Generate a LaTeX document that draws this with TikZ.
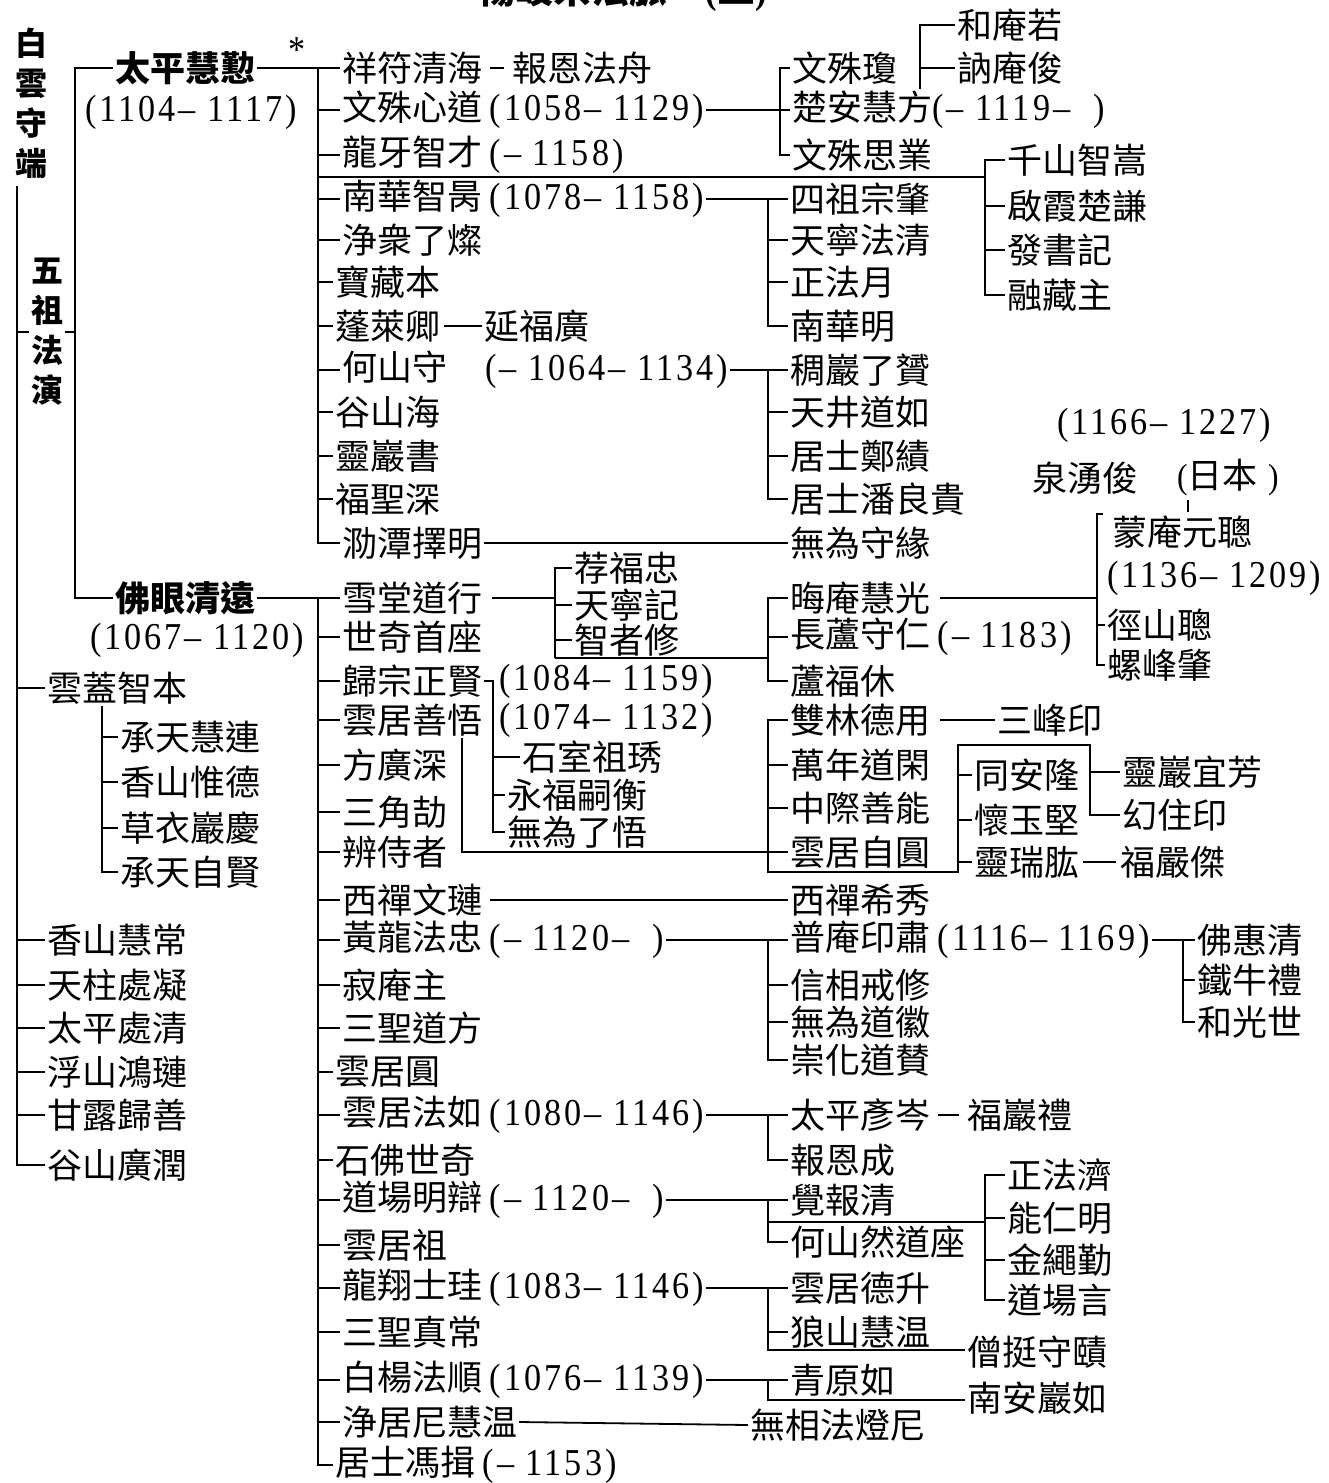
\documentclass[tikz,border=0pt]{standalone}
\usepackage{fontspec}
\setmainfont{Liberation Serif}
\newfontfamily\zhfont{Noto Sans CJK TC}
\newfontfamily\numfont{Liberation Serif}[FakeStretch=0.9,LetterSpace=8]
\newcommand{\yrs}[1]{{\numfont\fontsize{38}{38}\selectfont(#1)}}
\begin{document}
\begin{tikzpicture}[x=1pt,y=-1pt,line width=1.8pt,
	monk/.style={anchor=west, inner sep=0pt, outer sep=2pt, font=\zhfont\fontsize{35}{35}\selectfont},
	teacher/.style={monk, font=\zhfont\bfseries\fontsize{35}{35}\selectfont},
	yearsn/.style={anchor=west, inner sep=0pt, outer sep=2pt, font=\numfont\fontsize{38}{38}\selectfont},
	vert/.style={inner sep=0pt, outer sep=2pt, align=center, font=\zhfont\bfseries\fontsize{32}{40}\selectfont}]
	
	\clip (0,0) rectangle (1329,1483);
	
	%Title
	\node (ttl) at (622,12) [anchor=south, inner sep=0pt, font=\zhfont\bfseries\fontsize{38}{38}\selectfont]{楊岐宗法脈\quad{\numfont(}二{\numfont)}};
	
	%Bai Yun Shou Duan
	\node (byd) at (31,103) [vert]{白\\雲\\守\\端};
	\coordinate (colA) at (17,0);
	\node (wzfy) at (47,332) [vert]{五\\祖\\法\\演};
	\node (ygzb) at (45,688) [monk]{雲蓋智本};
	\node (xshc) at (45,940) [monk]{香山慧常};
	\node (tzcn) at (45,985) [monk]{天柱處凝};
	\node (tpcq) at (45,1028) [monk]{太平處清};
	\node (fshl) at (45,1072) [monk]{浮山鴻璉};
	\node (glgs) at (45,1115) [monk]{甘露歸善};
	\node (gsgr) at (45,1165) [monk]{谷山廣潤};
	\draw ([yshift=-6pt]byd.south -| colA) -- (colA |- gsgr.west) -- (gsgr.west);
	\draw (colA |- wzfy.west) -- (wzfy.west);
	\draw (colA |- ygzb.west) -- (ygzb.west);
	\draw (colA |- xshc.west) -- (xshc.west);
	\draw (colA |- tzcn.west) -- (tzcn.west);
	\draw (colA |- tpcq.west) -- (tpcq.west);
	\draw (colA |- fshl.west) -- (fshl.west);
	\draw (colA |- glgs.west) -- (glgs.west);
	
	%Yun Gai Zhi Ben
	\coordinate (colW) at (102,0);
	\node (ctlh) at (118,737) [monk]{承天慧連};
	\node (xswd) at (118,782) [monk]{香山惟德};
	\node (cyyq) at (118,828) [monk]{草衣巖慶};
	\node (ctzx) at (118,872) [monk]{承天自賢};
	\draw (colW |- ygzb.south) -- (colW |- ctzx.west) -- (ctzx.west);
	\draw (colW |- ctlh.west) -- (ctlh.west);
	\draw (colW |- xswd.west) -- (xswd.west);
	\draw (colW |- cyyq.west) -- (cyyq.west);
	
	%Wu Zu Fa Yan
	\coordinate (colB) at (75,0);
	\node (tpht) at (113,68) [teacher]{太平慧懃};
	\node (ast) at (297,50) [inner sep=0pt, font=\numfont\fontsize{38}{38}\selectfont]{*};
	\node (tphty) at (83,112) [yearsn]{(1104– 1117)};
	\node (fyqy) at (113,598) [teacher]{佛眼清遠};
	\node (fyqyy) at (88,640) [yearsn]{(1067– 1120)};
	\draw (wzfy.east) -- (colB |- wzfy.east);
	\draw (tpht.west) -- (colB |- tpht.west) -- (colB |- fyqy.west) -- (fyqy.west);
	
	%Tai Ping Hui Qin
	\coordinate (colC) at (318,0);
	\node (xfqh) at (340,68) [monk]{祥符清海};
	\node (befz) at (510,68) [monk]{報恩法舟};
	\node (wsxd) at (340,110) [monk]{文殊心道 \yrs{1058– 1129}};
	\node (lyzc) at (340,155) [monk]{龍牙智才 \yrs{– 1158}};
	\node (nhzb) at (340,199) [monk]{南華智昺 \yrs{1078– 1158}};
	\node (jzlc) at (340,240) [monk]{浄衆了燦};
	\node (bzb) at (333,282) [monk]{寶藏本};
	\node (plq) at (333,326) [monk]{蓬萊卿};
	\node (yfg) at (482,326) [monk]{延福廣};
	\node (hss) at (340,370) [monk]{何山守\hspace{38pt}\yrs{– 1064– 1134}};
	\node (gsh) at (333,412) [monk]{谷山海};
	\node (lys) at (333,456) [monk]{靈巖書};
	\node (fss) at (333,499) [monk]{福聖深};
	\node (ltzm) at (340,543) [monk]{泐潭擇明};
	\draw (tpht.east) -- (colC |- tpht.east);
	\draw (xfqh.west) -- (colC |- xfqh.west) -- (colC |- ltzm.west) -- (ltzm.west);
	\draw[shorten <=6pt, shorten >=6pt, line width=1.2pt] (xfqh.east) -- (befz.west);
	\draw (colC |- wsxd.west) -- (wsxd.west);
	\draw (colC |- lyzc.west) -- (lyzc.west);
	\draw (colC |- nhzb.west) -- (nhzb.west);
	\draw (colC |- jzlc.west) -- (jzlc.west);
	\draw (colC |- bzb.west) -- (bzb.west);
	\draw (colC |- plq.west) -- (plq.west);
	\draw (colC |- hss.west) -- (hss.west);
	\draw (colC |- gsh.west) -- (gsh.west);
	\draw (colC |- lys.west) -- (lys.west);
	\draw (colC |- fss.west) -- (fss.west);
	\draw[shorten <=2pt] (plq.east) -- (yfg.west);
	
	%Wen Shu Xin Dao
	\coordinate (colD) at (780,0);
	\node (wsq) at (790,68) [monk]{文殊瓊};
	\node (casf) at (790,110) [monk]{楚安慧方\yrs{– 1119–\ \ }};
	\node (wssy) at (790,155) [monk]{文殊思業};
	\draw (wsxd.east) -- (colD |- wsxd.east);
	\draw (wsq.west) -- (colD |- wsq.west) -- (colD |- wssy.west) -- (wssy.west);
	\draw (colD |- casf.west) -- (casf.west);
	
	%Chu An Hui Fang
	\coordinate (colF) at (920,0);
	\node (har) at (955,25) [monk]{和庵若};
	\node (naj) at (955,68) [monk]{訥庵俊};
	\draw (colF |- casf.north) -- (colF |- har.west) -- (har.west);
	\draw (colF |- naj.west) -- (naj.west);
	
	%Qian Shan group
	\coordinate (colQ) at (985,0);
	\coordinate (kq) at (318,177);
	\node (qszs) at (1005,160) [monk]{千山智嵩};
	\node (qxcq) at (1005,206) [monk]{啟霞楚謙};
	\node (fsj) at (1005,250) [monk]{發書記};
	\node (rcz) at (1005,295) [monk]{融藏主};
	\draw (kq) -- (colQ |- kq);
	\draw (qszs.west) -- (colQ |- qszs.west) -- (colQ |- rcz.west) -- (rcz.west);
	\draw (colQ |- qxcq.west) -- (qxcq.west);
	\draw (colQ |- fsj.west) -- (fsj.west);
	
	%Nan Hua Zhi Bing
	\coordinate (colE) at (768,0);
	\node (szzz) at (788,199) [monk]{四祖宗肇};
	\node (tnfq) at (788,240) [monk]{天寧法清};
	\node (zfy) at (788,282) [monk]{正法月};
	\node (nhm) at (788,326) [monk]{南華明};
	\draw (nhzb.east) -- (colE |- nhzb.east) -- (szzz.west);
	\draw (colE |- szzz.west) -- (colE |- nhm.west) -- (nhm.west);
	\draw (colE |- tnfq.west) -- (tnfq.west);
	\draw (colE |- zfy.west) -- (zfy.west);
	
	%He Shan Shou
	\node (cylz) at (788,370) [monk]{稠巖了贇};
	\node (tjdr) at (788,412) [monk]{天井道如};
	\node (jszj) at (788,456) [monk]{居士鄭績};
	\node (jspl) at (788,499) [monk]{居士潘良貴};
	\draw (hss.east) -- (colE |- hss.east) -- (cylz.west);
	\draw (colE |- cylz.west) -- (colE |- jspl.west) -- (jspl.west);
	\draw (colE |- tjdr.west) -- (tjdr.west);
	\draw (colE |- jszj.west) -- (jszj.west);
	
	%Le Tan Ze Ming
	\node (wwsy) at (788,543) [monk]{無為守緣};
	\draw (ltzm.east) -- (wwsy.west);
	
	%Quan Yong Jun
	\node (qyjy) at (1055,425) [yearsn]{(1166– 1227)};
	\node (qyj) at (1030,478) [monk]{泉湧俊};
	\node (rb) at (1175,478) [monk]{{\numfont(}日本{\numfont\ )}};
	\coordinate (rbt) at (1188,500);
	\draw[line width=1.2pt] (rbt) -- ++(0,12);
	
	%Fo Yan Qing Yuan
	\coordinate (colH) at (318,0);
	\node (xtdx) at (340,598) [monk]{雪堂道行};
	\node (sqsz) at (340,637) [monk]{世奇首座};
	\node (gzzx) at (340,681) [monk]{歸宗正賢};
	\node (gzzxy) at (497,681) [yearsn]{(1084– 1159)};
	\node (yjsw) at (340,720) [monk]{雲居善悟};
	\node (yjswy) at (497,720) [yearsn]{(1074– 1132)};
	\node (fgs) at (340,765) [monk]{方廣深};
	\node (sjj) at (340,812) [monk]{三角劼};
	\node (bsz) at (340,852) [monk]{辨侍者};
	\node (xcwl) at (340,900) [monk]{西禪文璉};
	\node (hlfz) at (340,940) [monk]{黃龍法忠 \yrs{– 1120–\ \ }};
	\node (jaz) at (340,985) [monk]{寂庵主};
	\node (ssdf) at (340,1028) [monk]{三聖道方};
	\node (yjy) at (333,1072) [monk]{雲居圓};
	\node (yjfr) at (340,1115) [monk]{雲居法如 \yrs{1080– 1146}};
	\node (sfsq) at (333,1160) [monk]{石佛世奇};
	\node (dcmb) at (340,1200) [monk]{道場明辯 \yrs{– 1120–\ \ }};
	\node (yjzu) at (340,1245) [monk]{雲居祖};
	\node (lxsg) at (340,1288) [monk]{龍翔士珪 \yrs{1083– 1146}};
	\node (sszc) at (340,1332) [monk]{三聖真常};
	\node (byfs) at (340,1380) [monk]{白楊法順 \yrs{1076– 1139}};
	\node (jjnh) at (340,1422) [monk]{浄居尼慧温};
	\node (jsfy) at (333,1465) [monk]{居士馮揖 \yrs{– 1153}};
	\draw (fyqy.east) -- (colH |- fyqy.east) -- (colH |- jsfy.west) -- (jsfy.west);
	\draw (colH |- xtdx.west) -- (xtdx.west);
	\draw (colH |- sqsz.west) -- (sqsz.west);
	\draw (colH |- gzzx.west) -- (gzzx.west);
	\draw (colH |- yjsw.west) -- (yjsw.west);
	\draw (colH |- fgs.west) -- (fgs.west);
	\draw (colH |- sjj.west) -- (sjj.west);
	\draw (colH |- bsz.west) -- (bsz.west);
	\draw (colH |- xcwl.west) -- (xcwl.west);
	\draw (colH |- hlfz.west) -- (hlfz.west);
	\draw (colH |- jaz.west) -- (jaz.west);
	\draw (colH |- ssdf.west) -- (ssdf.west);
	\draw (colH |- yjy.west) -- (yjy.west);
	\draw (colH |- yjfr.west) -- (yjfr.west);
	\draw (colH |- sfsq.west) -- (sfsq.west);
	\draw (colH |- dcmb.west) -- (dcmb.west);
	\draw (colH |- yjzu.west) -- (yjzu.west);
	\draw (colH |- lxsg.west) -- (lxsg.west);
	\draw (colH |- sszc.west) -- (sszc.west);
	\draw (colH |- byfs.west) -- (byfs.west);
	\draw (colH |- jjnh.west) -- (jjnh.west);
	
	%Xue Tang Dao Xing
	\coordinate (colI) at (555,0);
	\coordinate (iend) at (555,658);
	\node (jfz) at (572,568) [monk]{荐福忠};
	\node (tnj) at (572,605) [monk]{天寧記};
	\node (zzx) at (572,640) [monk]{智者修};
	\draw[shorten <=8pt] (xtdx.east) -- (colI |- xtdx.east);
	\draw (jfz.west) -- (colI |- jfz.west) -- (iend);
	\draw (colI |- tnj.west) -- (tnj.west);
	\draw (colI |- zzx.west) -- (zzx.west);
	
	%Hui An Hui Guang
	\coordinate (colJ) at (768,0);
	\node (hagg) at (788,598) [monk]{晦庵慧光};
	\node (czsr) at (788,637) [monk]{長蘆守仁 \yrs{– 1183}};
	\node (lfx) at (788,681) [monk]{蘆福休};
	\draw (iend) -- (colJ |- iend);
	\draw (hagg.west) -- (colJ |- hagg.west) -- (colJ |- lfx.west) -- (lfx.west);
	\draw (colJ |- czsr.west) -- (czsr.west);
	
	%Meng An Yuan Cong
	\coordinate (colG) at (1097,0);
	\node (mayc) at (1110,532) [monk]{蒙庵元聰};
	\node (maycy) at (1105,578) [yearsn]{(1136– 1209)};
	\node (jsc) at (1105,625) [monk]{徑山聰};
	\node (lfz) at (1105,665) [monk]{螺峰肇};
	\draw[shorten <=8pt] (hagg.east) -- (colG |- hagg.east);
	\draw ([xshift=6pt]colG |- mayc.north) -- (colG |- mayc.north) -- (colG |- lfz.west) -- (lfz.west);
	\draw (colG |- jsc.west) -- (jsc.west);
	
	%Gui Zong Zheng Xian
	\coordinate (colK) at (493,0);
	\node (sszx) at (520,757) [monk]{石室祖琇};
	\node (yfsh) at (505,795) [monk]{永福嗣衡};
	\node (wwlw) at (505,832) [monk]{無為了悟};
	\draw (gzzx.east) -- (colK |- gzzx.east) -- (colK |- wwlw.west) -- (wwlw.west);
	\draw (colK |- sszx.west) -- (sszx.west);
	\draw (colK |- yfsh.west) -- (yfsh.west);
	
	%Shuang Lin De Yong
	\coordinate (colL) at (768,0);
	\coordinate (lcol) at (462,0);
	\coordinate (lend) at (768,872);
	\coordinate (colU) at (958,0);
	\coordinate (ustart) at (958,745);
	\coordinate (colV) at (1090,0);
	\node (sldy) at (788,720) [monk]{雙林德用};
	\node (sfy) at (995,720) [monk]{三峰印};
	\node (mndx) at (788,765) [monk]{萬年道閑};
	\node (zjsn) at (788,808) [monk]{中際善能};
	\node (yjzy) at (788,852) [monk]{雲居自圓};
	\node (tal) at (972,775) [monk]{同安隆};
	\node (hyj) at (972,820) [monk]{懷玉堅};
	\node (lrg) at (972,862) [monk]{靈瑞肱};
	\node (fyj) at (1118,862) [monk]{福嚴傑};
	\node (lyyf) at (1120,772) [monk]{靈巖宜芳};
	\node (hzy) at (1120,815) [monk]{幻住印};
	\draw (lcol |- yjsw.south) -- (lcol |- yjzy.west) -- (yjzy.west);
	\draw (sldy.west) -- (colL |- sldy.west) -- (lend) -- (lend -| colU) -- (ustart) -- (colV |- ustart) -- (colV |- hzy.west) -- (hzy.west);
	\draw (colL |- mndx.west) -- (mndx.west);
	\draw (colL |- zjsn.west) -- (zjsn.west);
	\draw[shorten <=8pt] (sldy.east) -- (sfy.west);
	\draw (colU |- tal.west) -- (tal.west);
	\draw (colU |- hyj.west) -- (hyj.west);
	\draw (colU |- lrg.west) -- (lrg.west);
	\draw (colV |- lyyf.west) -- (lyyf.west);
	\draw[shorten <=2pt, shorten >=2pt] (lrg.east) -- (fyj.west);
	
	%Xi Chan Wen Lian
	\node (xcxx) at (788,900) [monk]{西禪希秀};
	\draw[shorten <=6pt] (xcwl.east) -- (xcxx.west);
	
	%Huang Long Fa Zhong
	\coordinate (colM) at (768,0);
	\node (payz) at (788,940) [monk]{普庵印肅 \yrs{1116– 1169}};
	\node (xxjx) at (788,985) [monk]{信相戒修};
	\node (wwdh) at (788,1022) [monk]{無為道徽};
	\node (chdz) at (788,1060) [monk]{崇化道賛};
	\draw (hlfz.east) -- (colM |- hlfz.east) -- (payz.west);
	\draw (colM |- payz.west) -- (colM |- chdz.west) -- (chdz.west);
	\draw (colM |- xxjx.west) -- (xxjx.west);
	\draw (colM |- wwdh.west) -- (wwdh.west);
	
	%Pu An Yin Su
	\coordinate (colN) at (1183,0);
	\node (fhq) at (1195,940) [monk]{佛惠清};
	\node (tnl) at (1195,980) [monk]{鐵牛禮};
	\node (hgs) at (1195,1022) [monk]{和光世};
	\draw (payz.east) -- (colN |- payz.east) -- (colN |- hgs.west) -- (hgs.west);
	\draw (colN |- fhq.west) -- (fhq.west);
	\draw (colN |- tnl.west) -- (tnl.west);
	
	%Yun Ju Fa Ru
	\coordinate (colO) at (768,0);
	\node (tpyc) at (788,1115) [monk]{太平彥岑};
	\node (fyl) at (965,1115) [monk]{福巖禮};
	\node (bec) at (788,1160) [monk]{報恩成};
	\draw (yjfr.east) -- (colO |- yjfr.east) -- (colO |- bec.west) -- (bec.west);
	\draw (colO |- tpyc.west) -- (tpyc.west);
	\draw[shorten <=6pt, shorten >=6pt, line width=1.2pt] (tpyc.east) -- (fyl.west);
	
	%Dao Chang Ming Bian
	\coordinate (colP) at (768,0);
	\coordinate (pmid) at (768,1222);
	\coordinate (colR) at (985,0);
	\node (jbq) at (788,1200) [monk]{覺報清};
	\node (hsrd) at (788,1242) [monk]{何山然道座};
	\node (zfj) at (1005,1175) [monk]{正法濟};
	\node (nrm) at (1005,1218) [monk]{能仁明};
	\node (jsq) at (1005,1260) [monk]{金繩勤};
	\node (dcy) at (1005,1300) [monk]{道場言};
	\draw (dcmb.east) -- (colP |- dcmb.east) -- (jbq.west);
	\draw (colP |- jbq.west) -- (colP |- hsrd.west) -- (hsrd.west);
	\draw (pmid) -- (colR |- pmid);
	\draw (zfj.west) -- (colR |- zfj.west) -- (colR |- dcy.west) -- (dcy.west);
	\draw (colR |- nrm.west) -- (nrm.west);
	\draw (colR |- jsq.west) -- (jsq.west);
	
	%Long Xiang Shi Gui
	\coordinate (colS) at (768,0);
	\coordinate (send) at (768,1350);
	\node (yjds) at (788,1288) [monk]{雲居德升};
	\node (lshw) at (788,1332) [monk]{狼山慧温};
	\node (stsz) at (965,1352) [monk]{僧挺守賾};
	\draw (lxsg.east) -- (colS |- lxsg.east) -- (yjds.west);
	\draw (colS |- yjds.west) -- (send) -- (send -| stsz.west);
	\draw (colS |- lshw.west) -- (lshw.west);
	
	%Bai Yang Fa Shun
	\coordinate (colT) at (768,0);
	\coordinate (tend) at (768,1400);
	\node (qyr) at (788,1380) [monk]{青原如};
	\node (nayr) at (965,1398) [monk]{南安巖如};
	\draw (byfs.east) -- (colT |- byfs.east) -- (qyr.west);
	\draw (colT |- qyr.west) -- (tend) -- (tend -| nayr.west);
	
	%Jing Ju ni Hui Wen
	\node (wxfd) at (748,1425) [monk]{無相法燈尼};
	\draw (jjnh.east) -- (wxfd.west);
	
\end{tikzpicture}
\end{document}
